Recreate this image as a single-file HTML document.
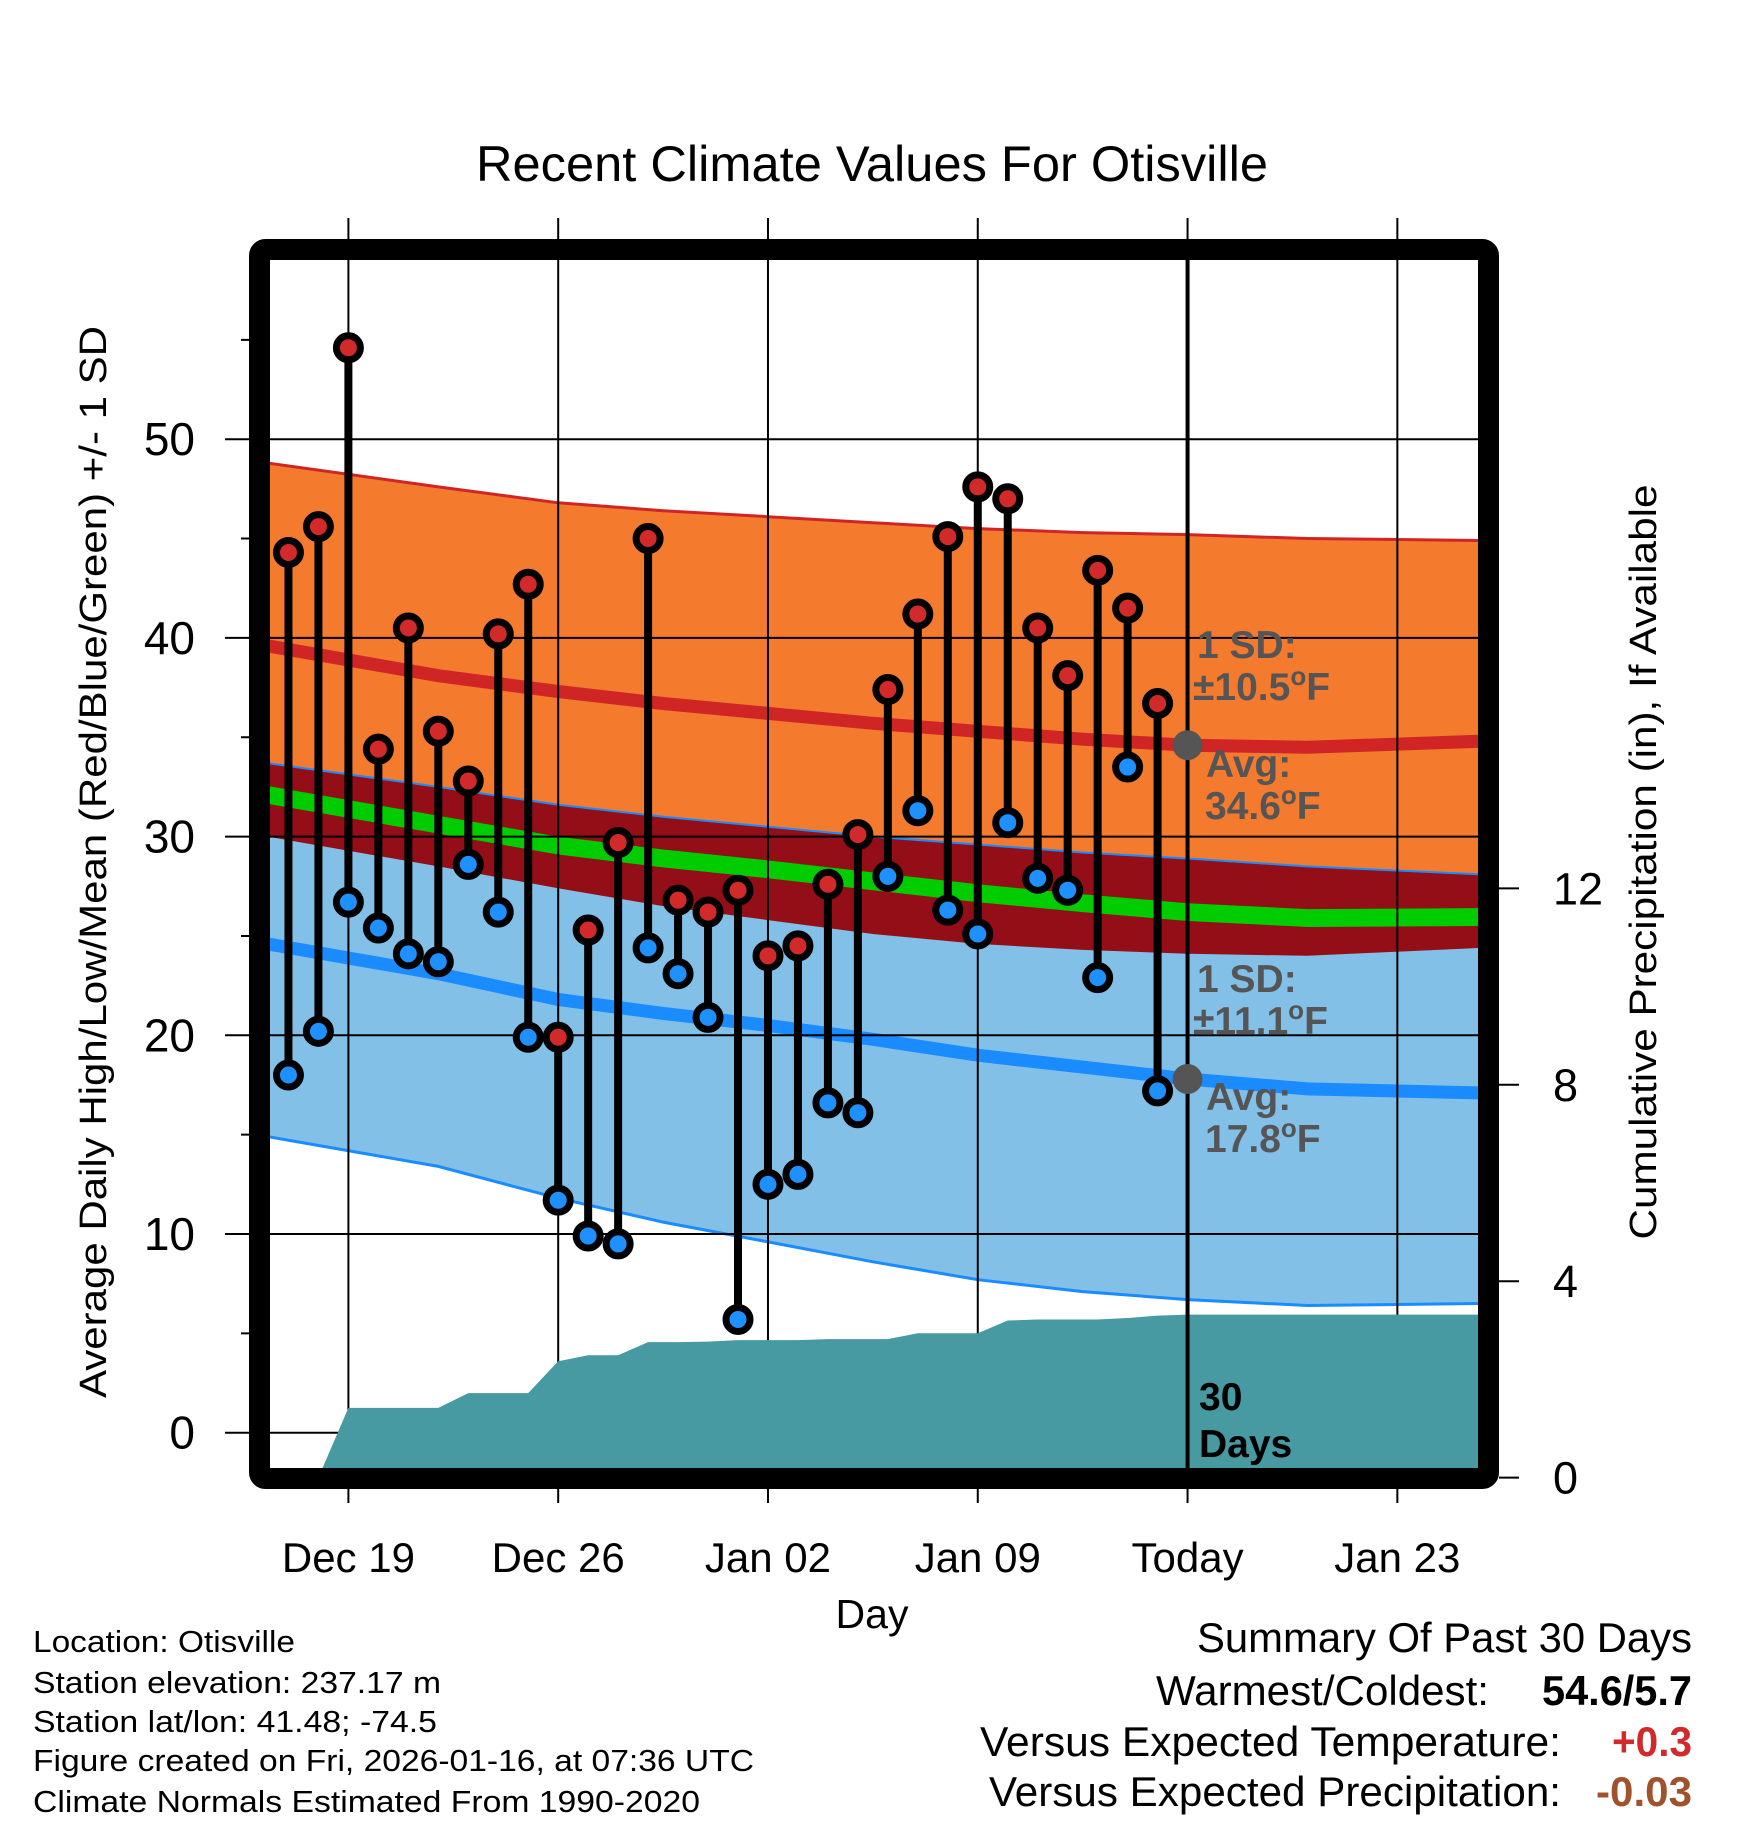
<!DOCTYPE html>
<html><head><meta charset="utf-8"><style>
html,body{margin:0;padding:0;background:#fff;}
svg{display:block;font-family:"Liberation Sans",sans-serif;}
</style></head><body>
<svg id="chart" width="1748" height="1828" viewBox="0 0 1748 1828" xmlns="http://www.w3.org/2000/svg">
<defs><clipPath id="plotclip"><rect x="270" y="260" width="1208" height="1208"/></clipPath></defs>
<rect x="0" y="0" width="1748" height="1828" fill="#fff"/>
<text x="872" y="181" font-size="50" text-anchor="middle" textLength="792" lengthAdjust="spacingAndGlyphs">Recent Climate Values For Otisville</text>
<g id="bands" clip-path="url(#plotclip)"></g>
<g id="grid"></g>
<g id="precip" clip-path="url(#plotclip)"></g>
<g id="marks" clip-path="url(#plotclip)"></g>
<g id="annot"></g>
<rect x="259.5" y="249.5" width="1229" height="1229" fill="none" stroke="#000" stroke-width="21" rx="6"/>
<g id="axes"></g>
<text transform="translate(106,862) rotate(-90)" font-size="38" text-anchor="middle" textLength="1072" lengthAdjust="spacingAndGlyphs">Average Daily High/Low/Mean (Red/Blue/Green) +/- 1 SD</text>
<text transform="translate(1656,862) rotate(-90)" font-size="38" text-anchor="middle" textLength="755" lengthAdjust="spacingAndGlyphs">Cumulative Precipitation (in), If Available</text>
<text x="872" y="1628" font-size="41" text-anchor="middle">Day</text>
<g font-size="31">
<text x="33" y="1652" textLength="262" lengthAdjust="spacingAndGlyphs">Location: Otisville</text>
<text x="33" y="1693" textLength="408" lengthAdjust="spacingAndGlyphs">Station elevation: 237.17 m</text>
<text x="33" y="1732" textLength="404" lengthAdjust="spacingAndGlyphs">Station lat/lon: 41.48; -74.5</text>
<text x="33" y="1771" textLength="721" lengthAdjust="spacingAndGlyphs">Figure created on Fri, 2026-01-16, at 07:36 UTC</text>
<text x="33" y="1812" textLength="667" lengthAdjust="spacingAndGlyphs">Climate Normals Estimated From 1990-2020</text>
</g>
<g font-size="42">
<text x="1197" y="1652" textLength="495" lengthAdjust="spacingAndGlyphs">Summary Of Past 30 Days</text>
<text x="1156" y="1705" textLength="333" lengthAdjust="spacingAndGlyphs">Warmest/Coldest:</text>
<text x="1542" y="1705" font-weight="bold" textLength="150" lengthAdjust="spacingAndGlyphs">54.6/5.7</text>
<text x="980" y="1756" textLength="581" lengthAdjust="spacingAndGlyphs">Versus Expected Temperature:</text>
<text x="1612" y="1756" font-weight="bold" fill="#d22a2a" textLength="80" lengthAdjust="spacingAndGlyphs">+0.3</text>
<text x="989" y="1806" textLength="572" lengthAdjust="spacingAndGlyphs">Versus Expected Precipitation:</text>
<text x="1596" y="1806" font-weight="bold" fill="#a0522d" textLength="96" lengthAdjust="spacingAndGlyphs">-0.03</text>
</g>
</svg>
<script>
// ---- data ----
const dayLabels = ["Dec 19","Dec 26","Jan 02","Jan 09","Today","Jan 23"];
const labelDays = [0,7,14,21,28,35];
const obsDays = [-2,-1,0,1,2,3,4,5,6,7,8,9,10,11,12,13,14,15,16,17,18,19,20,21,22,23,24,25,26,27];
const highs = [44.3,45.6,54.6,34.4,40.5,35.3,32.8,40.2,42.7,19.9,25.3,29.7,45.0,26.8,26.2,27.3,24.0,24.5,27.6,30.1,37.4,41.2,45.1,47.6,47.0,40.5,38.1,43.4,41.5,36.7];
const lows  = [18.0,20.2,26.7,25.4,24.1,23.7,28.6,26.2,19.9,11.7,9.9,9.5,24.4,23.1,20.9,5.7,12.5,13.0,16.6,16.1,28.0,31.3,26.3,25.1,30.7,27.9,27.3,22.9,33.5,17.2];
const normDays = [-2.7,3,7,10.5,14,17.5,21,24.5,28,32,37.8];
const highPlusSD = [48.8,47.6,46.8,46.4,46.1,45.8,45.5,45.3,45.2,45.0,44.9];
const highAvg    = [39.6,38.1,37.3,36.7,36.2,35.7,35.3,34.9,34.6,34.5,34.8];
const highMinusSD= [30.0,28.5,27.4,26.5,25.8,25.1,24.6,24.3,24.1,24.0,24.4];
const lowPlusSD  = [33.7,32.5,31.6,31.0,30.5,30.0,29.6,29.2,28.9,28.5,28.1];
const lowAvg     = [24.6,23.1,21.8,21.1,20.5,19.8,19.0,18.4,17.8,17.3,17.1];
const lowMinusSD = [14.9,13.4,11.8,10.6,9.6,8.6,7.7,7.1,6.7,6.4,6.5];
const precipDays = [-2,-1,0,1,2,3,4,5,6,7,8,9,10,11,12,13,14,15,16,17,18,19,20,21,22,23,24,25,26,27,28,38];
const precipVals = [0,0,1.42,1.42,1.42,1.42,1.72,1.72,1.72,2.37,2.49,2.49,2.76,2.76,2.77,2.8,2.8,2.8,2.82,2.82,2.82,2.94,2.94,2.94,3.2,3.22,3.22,3.22,3.25,3.3,3.32,3.32];
const yTicks = [0,10,20,30,40,50];
const yMinor = [5,15,25,35,45,55];
const y2Ticks = [0,4,8,12];
const todayDay = 28;

// ---- scales ----
const X = d => 348.4 + d*29.97;
const Y = v => 1432.7 - v*19.87;
const Y2 = p => 1477.6 - p*49.1;
const NS = "http://www.w3.org/2000/svg";
function mk(tag, parent, attrs){const e=document.createElementNS(NS,tag);for(const k in attrs)e.setAttribute(k,attrs[k]);parent.appendChild(e);return e;}
const line = (arr) => normDays.map((d,i)=>X(d).toFixed(1)+","+Y(arr[i]).toFixed(1));
function band(a,b){return "M"+line(a).join(" L")+" L"+line(b).reverse().join(" L")+" Z";}

const bands = document.getElementById('bands');
let e;
e = mk('path',bands,{d:band(highPlusSD,highMinusSD),fill:'#f47a2e'});


e = mk('path',bands,{d:band(lowPlusSD,lowMinusSD),fill:'#82c0e7'});


e = mk('path',bands,{d:band(lowPlusSD,highMinusSD),fill:'#930e16'});


const meanArr = highAvg.map((h,i)=>(h+lowAvg[i])/2);
e = mk('path',bands,{d:band(meanArr.map(v=>v+0.45),meanArr.map(v=>v-0.45)),fill:'#00cc00'});


e = mk('polyline',bands,{points:line(highPlusSD).join(" "),fill:'none',stroke:'#d02525','stroke-width':3});


e = mk('polyline',bands,{points:line(lowPlusSD).join(" "),fill:'none',stroke:'#1a8cff','stroke-width':2});


e = mk('polyline',bands,{points:line(lowMinusSD).join(" "),fill:'none',stroke:'#1a8cff','stroke-width':3});


e = mk('polyline',bands,{points:line(highAvg).join(" "),fill:'none',stroke:'#d02525','stroke-width':13});


e = mk('polyline',bands,{points:line(lowAvg).join(" "),fill:'none',stroke:'#1a8cff','stroke-width':13});



// grid
const grid = document.getElementById('grid');
labelDays.forEach(d=>{
  e = mk('line',grid,{x1:X(d),x2:X(d),y1:218,y2:1503,stroke:'#000','stroke-width':2});
  
  
});
yTicks.forEach(v=>{
  e = mk('line',grid,{x1:225,x2:1478,y1:Y(v),y2:Y(v),stroke:'#000','stroke-width':2});
  
  
});
yMinor.forEach(v=>{
  e = mk('line',grid,{x1:241,x2:260,y1:Y(v),y2:Y(v),stroke:'#000','stroke-width':2});
  
  
});

// precip
const pg = document.getElementById('precip');
let pd = "M"+X(precipDays[0])+","+Y2(0);
precipDays.forEach((d,i)=>{pd+=" L"+X(d).toFixed(1)+","+Y2(precipVals[i]).toFixed(1);});
pd += " L"+X(precipDays[precipDays.length-1])+","+Y2(-1)+" L"+X(precipDays[0])+","+Y2(-1)+" Z";
e = mk('path',pg,{d:pd,fill:'#4799a2'});



// marks
const mg = document.getElementById('marks');
e = mk('line',mg,{x1:X(todayDay),x2:X(todayDay),y1:250,y2:1480,stroke:'#000','stroke-width':4});


obsDays.forEach((d,i)=>{
  const s = mk('line',mg,{x1:X(d),x2:X(d),y1:Y(highs[i]),y2:Y(lows[i]),stroke:'#000','stroke-width':8});
  
  
});
obsDays.forEach((d,i)=>{
  const h = mk('circle',mg,{cx:X(d),cy:Y(highs[i]),r:12,fill:'#d22a2a',stroke:'#000','stroke-width':7});
  
  
  const l = mk('circle',mg,{cx:X(d),cy:Y(lows[i]),r:12,fill:'#1e90ff',stroke:'#000','stroke-width':7});
  
  
});

// annotations
const an = document.getElementById('annot');
e = mk('circle',an,{cx:X(todayDay),cy:Y(highAvg[8]),r:15,fill:'#555'});


e = mk('circle',an,{cx:X(todayDay),cy:Y(lowAvg[8]),r:15,fill:'#555'});


const deg = "<tspan dy='-15' font-size='26'>o</tspan><tspan dy='15'>F</tspan>";
const notes = [
 ["high-sd-label",1197,658,"1 SD:"],["high-sd-value",1193,700,"±10.5"+deg],
 ["avg-high-label",1206,777,"Avg:"],["avg-high-value",1205,819,"34.6"+deg],
 ["low-sd-label",1197,992,"1 SD:"],["low-sd-value",1193,1034,"±11.1"+deg],
 ["avg-low-label",1206,1110,"Avg:"],["avg-low-value",1205,1152,"17.8"+deg]
];
notes.forEach(n=>{
  const t = mk('text',an,{x:n[1],y:n[2],'font-size':39,'font-weight':'bold',fill:'#555'});
  t.innerHTML = n[3];
  
  
});
e = mk('text',an,{x:1199,y:1410,'font-size':39,'font-weight':'bold',fill:'#000'});
e.textContent = "30";


e = mk('text',an,{x:1199,y:1457,'font-size':39,'font-weight':'bold',fill:'#000'});
e.textContent = "Days";



// axes labels
const ax = document.getElementById('axes');
yTicks.forEach(v=>{
  const t = mk('text',ax,{x:195,y:Y(v)+16,'font-size':46,'text-anchor':'end'});
  t.textContent = v;
  
  
});
y2Ticks.forEach(p=>{
  const tk = mk('line',ax,{x1:1499,x2:1519,y1:Y2(p),y2:Y2(p),stroke:'#000','stroke-width':2});
  
  
  const t = mk('text',ax,{x:1553,y:Y2(p)+16,'font-size':45});
  t.textContent = p;
  
  
});
labelDays.forEach((d,i)=>{
  const t = mk('text',ax,{x:X(d),y:1572,'font-size':42,'text-anchor':'middle'});
  t.textContent = dayLabels[i];
  
  
});
</script>
</body></html>
